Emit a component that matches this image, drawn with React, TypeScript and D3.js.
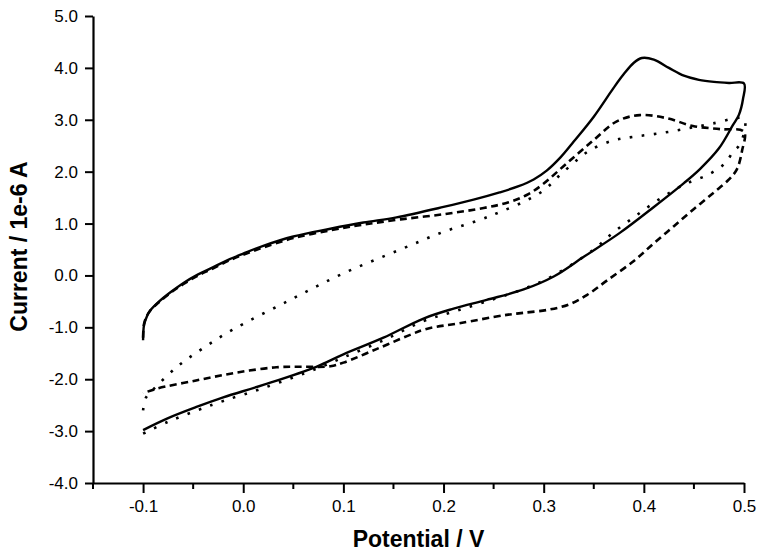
import { useEffect, useRef } from 'react';
import * as d3 from 'd3';

// potential (V), current (1e-6 A)
const solidForward: [number, number][] = [
  [-0.1, -1.25], [-0.099, -0.95], [-0.096, -0.78], [-0.093, -0.68], [-0.085, -0.52],
  [-0.073, -0.33], [-0.06, -0.15], [-0.045, 0.02], [-0.033, 0.13], [-0.015, 0.3],
  [0.0, 0.42], [0.02, 0.57], [0.05, 0.75], [0.087, 0.9], [0.12, 1.02], [0.153, 1.12],
  [0.2, 1.32], [0.23, 1.46], [0.256, 1.6], [0.275, 1.72], [0.29, 1.85], [0.303, 2.02],
  [0.317, 2.28], [0.33, 2.58], [0.35, 3.06], [0.37, 3.62], [0.38, 3.88], [0.39, 4.1],
  [0.398, 4.19], [0.41, 4.16], [0.425, 4.0], [0.44, 3.85], [0.455, 3.77], [0.47, 3.73],
  [0.485, 3.71], [0.5, 3.7],
];
const solidReverse: [number, number][] = [
  [0.5, 3.7], [0.499, 3.4], [0.495, 3.1], [0.489, 2.9], [0.475, 2.45], [0.456, 2.05],
  [0.44, 1.78], [0.41, 1.32], [0.376, 0.82], [0.34, 0.36], [0.31, -0.02], [0.28, -0.27],
  [0.243, -0.47], [0.21, -0.64], [0.18, -0.83], [0.14, -1.2], [0.1, -1.52],
  [0.073, -1.76], [0.02, -2.11], [-0.02, -2.35], [-0.046, -2.53], [-0.075, -2.75],
  [-0.1, -2.98],
];
const dashedForward: [number, number][] = [
  [-0.1, -1.2], [-0.099, -0.93], [-0.096, -0.77], [-0.093, -0.68], [-0.085, -0.53],
  [-0.073, -0.34], [-0.06, -0.17], [-0.045, 0.0], [-0.033, 0.11], [-0.015, 0.28],
  [0.0, 0.4], [0.02, 0.54], [0.05, 0.72], [0.087, 0.87], [0.12, 0.98], [0.157, 1.08],
  [0.2, 1.18], [0.24, 1.3], [0.265, 1.41], [0.283, 1.55], [0.298, 1.74], [0.323, 2.16],
  [0.35, 2.61], [0.373, 2.97], [0.396, 3.09], [0.423, 3.03], [0.449, 2.88],
  [0.476, 2.82], [0.5, 2.77],
];
const dashedReverse: [number, number][] = [
  [0.5, 2.77], [0.498, 2.4], [0.493, 2.05], [0.485, 1.85], [0.47, 1.6], [0.45, 1.28],
  [0.43, 0.95], [0.41, 0.62], [0.39, 0.28], [0.363, -0.1], [0.343, -0.38],
  [0.325, -0.56], [0.305, -0.66], [0.28, -0.72], [0.263, -0.76], [0.216, -0.92],
  [0.183, -1.03], [0.166, -1.15], [0.133, -1.42], [0.1, -1.68], [0.087, -1.75],
  [0.06, -1.76], [0.033, -1.77], [-0.006, -1.87], [-0.046, -2.02], [-0.086, -2.18],
  [-0.1, -2.27],
];
const dottedForward: [number, number][] = [
  [-0.1, -2.6], [-0.097, -2.35], [-0.09, -2.2], [-0.066, -1.76], [-0.04, -1.4],
  [-0.011, -1.05], [0.045, -0.49], [0.1, 0.04], [0.157, 0.5], [0.2, 0.84],
  [0.236, 1.07], [0.256, 1.22], [0.28, 1.42], [0.3, 1.64], [0.316, 1.93],
  [0.333, 2.22], [0.346, 2.41], [0.369, 2.6], [0.389, 2.67], [0.416, 2.74],
  [0.443, 2.83], [0.469, 2.93], [0.5, 3.02],
];
const dottedReverse: [number, number][] = [
  [0.5, 3.02], [0.5, 2.75], [0.495, 2.5], [0.489, 2.38], [0.481, 2.16], [0.465, 1.95],
  [0.44, 1.75], [0.414, 1.45], [0.39, 1.12], [0.369, 0.82], [0.35, 0.5], [0.31, 0.0],
  [0.28, -0.26], [0.243, -0.5], [0.21, -0.7], [0.18, -0.88], [0.14, -1.25], [0.1, -1.58],
  [0.073, -1.8], [0.02, -2.17], [-0.02, -2.42], [-0.046, -2.6], [-0.075, -2.82],
  [-0.1, -3.05],
];

const xMajor = [-0.1, 0.0, 0.1, 0.2, 0.3, 0.4, 0.5];
const xMinor = [-0.15, -0.05, 0.05, 0.15, 0.25, 0.35, 0.45];
const yMajor = [-4, -3, -2, -1, 0, 1, 2, 3, 4, 5];

const series = [
  { name: 'solid', points: [...solidForward, ...solidReverse.slice(1)], dash: null },
  { name: 'dashed', points: [...dashedForward, ...dashedReverse.slice(1)], dash: '7,4.5' },
  { name: 'dotted', points: [...dottedForward, ...dottedReverse.slice(1)], dash: '2.6,9.5' },
];

const WIDTH = 765;
const HEIGHT = 558;
const FONT = "'Liberation Sans', Arial, Helvetica, sans-serif";

export default function App() {
  const svgRef = useRef<SVGSVGElement>(null);

  useEffect(() => {
    if (!svgRef.current) return;
    const svg = d3.select(svgRef.current);
    svg.selectAll('*').remove();

    const x = d3.scaleLinear().domain([-0.15, 0.5]).range([93, 744]);
    const y = d3.scaleLinear().domain([-4, 5]).range([483, 16]);

    // curves
    const line = d3.line<[number, number]>()
      .x(d => x(d[0]))
      .y(d => y(d[1]))
      .curve(d3.curveCatmullRom.alpha(0.5));

    series.forEach(s => {
      svg.append('path')
        .attr('d', line(s.points))
        .attr('fill', 'none')
        .attr('stroke', '#000')
        .attr('stroke-width', s.name === 'solid' ? 2.4 : 2.6)
        .attr('stroke-linejoin', 'round')
        .attr('stroke-dasharray', s.dash);
    });

    // x axis
    const xAxis = svg.append('g')
      .attr('transform', `translate(0,${y(-4)})`)
      .call(d3.axisBottom(x)
        .tickValues(xMajor)
        .tickSize(10)
        .tickSizeOuter(0)
        .tickPadding(7)
        .tickFormat(d => (+d).toFixed(1)));

    xAxis.selectAll('.tick line')
      .attr('stroke-width', 2);

    xAxis.selectAll('line.minor')
      .data(xMinor)
      .enter().append('line')
      .attr('class', 'minor')
      .attr('x1', d => x(d))
      .attr('x2', d => x(d))
      .attr('y1', 0)
      .attr('y2', 6)
      .attr('stroke', '#000')
      .attr('stroke-width', 2);

    // y axis
    const yAxis = svg.append('g')
      .attr('transform', `translate(${x(-0.15)},0)`)
      .call(d3.axisLeft(y)
        .tickValues(yMajor)
        .tickSize(8)
        .tickSizeOuter(0)
        .tickPadding(7)
        .tickFormat(d => (+d).toFixed(1)));

    yAxis.selectAll('.tick line')
      .attr('stroke-width', 2);

    [xAxis, yAxis].forEach(a => {
      a.select('.domain').attr('stroke-width', 2.2);
      a.attr('font-family', FONT).attr('font-size', 17);
      a.selectAll('text').attr('fill', '#000');
    });

    // axis titles
    svg.append('text')
      .attr('x', (x(-0.15) + x(0.5)) / 2)
      .attr('y', 547)
      .attr('text-anchor', 'middle')
      .attr('font-family', FONT)
      .attr('font-weight', 'bold')
      .attr('font-size', 23)
      .text('Potential / V');

    svg.append('text')
      .attr('transform', `translate(27,${(y(5) + y(-4)) / 2 - 3}) rotate(-90)`)
      .attr('text-anchor', 'middle')
      .attr('font-family', FONT)
      .attr('font-weight', 'bold')
      .attr('font-size', 23)
      .text('Current / 1e-6 A');
  }, []);

  return (
    <svg
      ref={svgRef}
      width={WIDTH}
      height={HEIGHT}
      style={{ position: 'absolute', left: 0, top: 0, background: '#fff' }}
    />
  );
}
